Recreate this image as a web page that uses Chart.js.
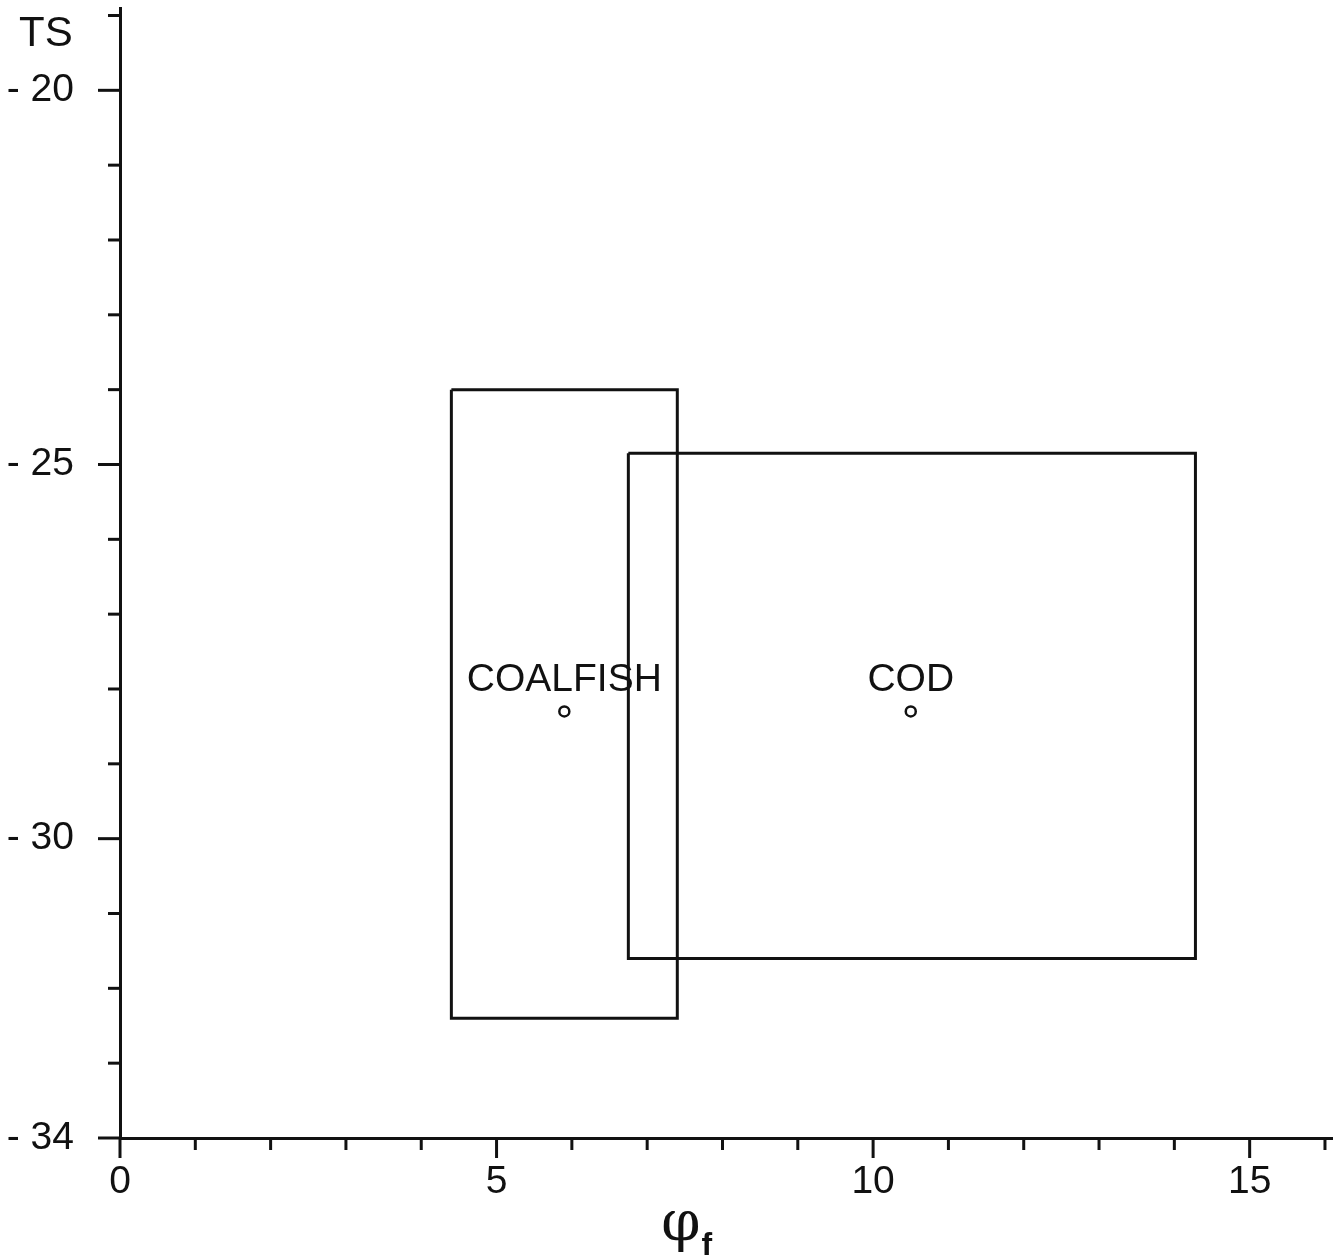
<!DOCTYPE html>
<html>
<head>
<meta charset="utf-8">
<script src="https://cdn.jsdelivr.net/npm/chart.js@4.4.0/dist/chart.umd.min.js"></script>
<style>
  body { margin: 0; background: #fff; }
  #wrap { width: 1340px; height: 1260px; }
</style>
</head>
<body>
<div id="wrap"><canvas id="myChart"></canvas></div>
<script>
const ctx = document.querySelector("#myChart").getContext("2d");

// boxes (corners, closed)
const coalfishBoxX = [4.4, 7.4, 7.4, 4.4, 4.4];
const coalfishBoxY = [-24.0, -24.0, -32.4, -32.4, -24.0];
const codBoxX = [6.75, 14.28, 14.28, 6.75, 6.75];
const codBoxY = [-24.85, -24.85, -31.6, -31.6, -24.85];

// mean points
const speciesNames = ["COALFISH", "COD"];
const meanX = [5.9, 10.5];
const meanY = [-28.3, -28.3];

// tick labels
const xTickLabels = [0, 5, 10, 15];
const yTickLabels = [-20, -25, -30, -34];

const ink = "#111";
const font = "'Liberation Sans', Arial, sans-serif";

const toPoints = (xs, ys) => xs.map((x, i) => ({ x: x, y: ys[i] }));

// no extra room for half labels at the ends
const noPad = (scale) => {
    scale.paddingTop = 0;
    scale.paddingBottom = 0;
    scale.paddingLeft = 0;
    scale.paddingRight = 0;
};

// draws tick marks (long ones at labelled values) and text labels
const decorPlugin = {
    id: "decor",
    afterDraw(chart) {
        const c = chart.ctx;
        const xs = chart.scales.x;
        const ys = chart.scales.y;
        const area = chart.chartArea;
        c.save();
        c.strokeStyle = ink;
        c.lineWidth = 3;
        xs.ticks.forEach(t => {
            if (!Number.isInteger(t.value)) return;
            const px = xs.getPixelForValue(t.value);
            const len = xTickLabels.includes(t.value) ? 20 : 12;
            c.beginPath();
            c.moveTo(px, area.bottom);
            c.lineTo(px, area.bottom + len);
            c.stroke();
        });
        ys.ticks.forEach(t => {
            if (!Number.isInteger(t.value)) return;
            const py = ys.getPixelForValue(t.value);
            const len = yTickLabels.includes(t.value) ? 22 : 12;
            c.beginPath();
            c.moveTo(area.left, py);
            c.lineTo(area.left - len, py);
            c.stroke();
        });

        // species labels above mean points
        const meta = chart.getDatasetMeta(2);
        c.fillStyle = ink;
        c.font = "39px " + font;
        c.textAlign = "center";
        c.textBaseline = "alphabetic";
        meta.data.forEach((pt, i) => {
            c.fillText(speciesNames[i], pt.x, pt.y - 20);
        });

        // axis titles
        c.font = "42px " + font;
        c.textAlign = "left";
        c.fillText("TS", 19, 46);
        const tx = xs.getPixelForValue(7.5);
        c.font = "56px 'DejaVu Serif', serif";
        c.textAlign = "center";
        c.fillText("φ", tx - 4, 1240);
        c.font = "bold 32px " + font;
        c.fillText("f", tx + 22, 1255);
        c.restore();
    }
};

const data = {
    datasets: [
        {
            label: "COALFISH range",
            data: toPoints(coalfishBoxX, coalfishBoxY),
            showLine: true,
            borderColor: ink,
            borderWidth: 3,
            pointRadius: 0,
            fill: false,
            tension: 0,
        },
        {
            label: "COD range",
            data: toPoints(codBoxX, codBoxY),
            showLine: true,
            borderColor: ink,
            borderWidth: 3,
            pointRadius: 0,
            fill: false,
            tension: 0,
        },
        {
            label: "means",
            data: toPoints(meanX, meanY),
            showLine: false,
            pointRadius: 5,
            pointBackgroundColor: "#fff",
            pointBorderColor: ink,
            pointBorderWidth: 2.5,
        }
    ]
};

const config = {
    type: "scatter",
    data: data,
    options: {
        responsive: true,
        maintainAspectRatio: false,
        animation: false,
        layout: { padding: { left: 0, right: 4, top: 8, bottom: 0 } },
        plugins: {
            legend: { display: false },
            tooltip: { enabled: false },
        },
        scales: {
            x: {
                type: "linear",
                min: 0,
                max: 16.1,
                afterFit: (scale) => { scale.height = 122; noPad(scale); },
                border: { display: true, color: ink, width: 3 },
                grid: { display: false },
                ticks: {
                    stepSize: 1,
                    includeBounds: false,
                    autoSkip: false,
                    maxRotation: 0,
                    padding: 13,
                    color: ink,
                    font: { family: font, size: 39 },
                    callback: (value) => xTickLabels.includes(value) ? String(value) : "",
                }
            },
            y: {
                type: "linear",
                min: -34,
                max: -18.9,
                afterFit: (scale) => { scale.width = 120; noPad(scale); },
                border: { display: true, color: ink, width: 3 },
                grid: { display: false },
                ticks: {
                    stepSize: 1,
                    includeBounds: false,
                    autoSkip: false,
                    padding: 38,
                    color: ink,
                    font: { family: font, size: 39 },
                    callback: (value) => yTickLabels.includes(value) ? "- " + Math.abs(value) : "",
                }
            }
        }
    },
    plugins: [decorPlugin]
};

const myChart = new Chart(ctx, config);
</script>
</body>
</html>
